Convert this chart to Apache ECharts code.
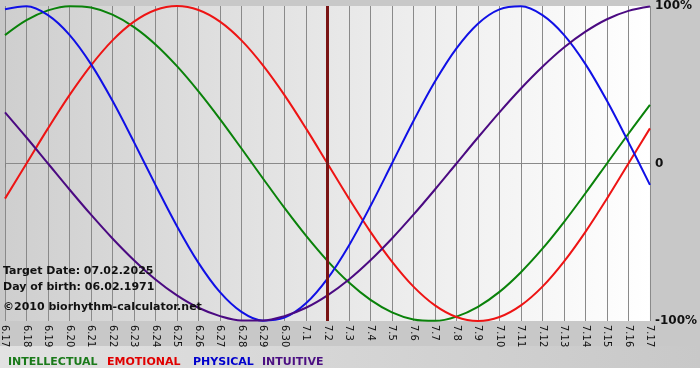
<!DOCTYPE html>
<html>
<head>
<meta charset="utf-8">
<script src="https://cdn.jsdelivr.net/npm/echarts@6/dist/echarts.min.js"></script>
<style>html,body{margin:0;padding:0;background:#fff}#c{width:700px;height:380px}</style>
</head>
<body>
<div id="c"></div>
<script>
var days = ['6.17','6.18','6.19','6.20','6.21','6.22','6.23','6.24','6.25','6.26','6.27','6.28','6.29','6.30',
  '7.1','7.2','7.3','7.4','7.5','7.6','7.7','7.8','7.9','7.10','7.11','7.12','7.13','7.14','7.15','7.16','7.17'];
var intellectual = [81.5,91.0,97.2,99.9,99.0,94.5,86.6,75.6,61.8,45.8,28.2,9.5,-9.5,-28.2,-45.8,-61.8,-75.6,-86.6,-94.5,-99.0,-99.9,-97.2,-91.0,-81.5,-69.0,-54.1,-37.2,-18.9,0,18.9,37.2];
var emotional = [-22.3,0,22.3,43.4,62.3,78.2,90.1,97.5,100,97.5,90.1,78.2,62.3,43.4,22.3,0,-22.3,-43.4,-62.3,-78.2,-90.1,-97.5,-100,-97.5,-90.1,-78.2,-62.3,-43.4,-22.3,0,22.3];
var physical = [97.9,99.8,94.2,81.7,63.1,39.8,13.6,-13.6,-39.8,-63.1,-81.7,-94.2,-99.8,-97.9,-88.8,-73.1,-52.0,-27.0,0,27.0,52.0,73.1,88.8,97.9,99.8,94.2,81.7,63.1,39.8,13.6,-13.6];
var intuitive = [32.5,16.5,0,-16.5,-32.5,-47.6,-61.4,-73.6,-83.7,-91.6,-96.9,-99.7,-99.7,-96.9,-91.6,-83.7,-73.6,-61.4,-47.6,-32.5,-16.5,0,16.5,32.5,47.6,61.4,73.6,83.7,91.6,96.9,99.7];
var yTicks = {'100':'100%','0':'0','-100':'-100%'};
var targetDay = '7.2';
var infoLines = ['Target Date: 07.02.2025','Day of birth: 06.02.1971','©2010 biorhythm-calculator.net'];
var legendNames = ['INTELLECTUAL','EMOTIONAL','PHYSICAL','INTUITIVE'];

var colors = ['#0a820a','#ee1414','#1010e6','#4b0a82'];
var legendColors = ['#1a7a1a','#e00000','#0000cc','#4b0f82'];
var font = '"DejaVu Sans", Verdana, sans-serif';

var chart = echarts.init(document.getElementById('c'));
var series = [intellectual, emotional, physical, intuitive].map(function(d, i){
  var s = {
    type:'line', name: legendNames[i], data:d, smooth:0.35, symbol:'none',
    lineStyle:{color:colors[i], width:2}, z: 3
  };
  if (i === 0) {
    s.markLine = {symbol:'none', silent:true, label:{show:false},
      lineStyle:{color:'#7a1515', width:3, type:'solid'},
      data:[{xAxis: targetDay}]};
  }
  return s;
});
var legendX = [8, 107, 193, 262];
var graphics = [
  {type:'rect', shape:{x:0,y:346,width:700,height:22}, z:-10,
   style:{fill:{type:'linear',x:0,y:0,x2:1,y2:0,colorStops:[{offset:0,color:'#e2e2e2'},{offset:1,color:'#c8c8c8'}]}}},
  {type:'rect', shape:{x:0,y:368,width:700,height:12}, z:-10, style:{fill:'#ffffff'}}
];
legendNames.forEach(function(n,i){
  graphics.push({type:'text', x:legendX[i], y:362, style:{text:n, fill:legendColors[i], font:'bold 11px '+font, textVerticalAlign:'middle'}});
});
var infoY = [271, 287, 307];
infoLines.forEach(function(t,i){
  graphics.push({type:'text', x:3, y:infoY[i], z:10, style:{text:t, fill:'#111', font:'bold 11px '+font, textVerticalAlign:'middle'}});
});

chart.setOption({
  backgroundColor:'#c8c8c8',
  animation:false,
  grid:{left:2, right:49, top:5, bottom:59, show:true, borderWidth:0,
    backgroundColor:{type:'linear',x:0,y:0,x2:1,y2:0,colorStops:[{offset:0,color:'#cfcfcf'},{offset:1,color:'#ffffff'}]}},
  xAxis:{type:'category', data:days, boundaryGap:false,
    axisLine:{show:false},
    axisTick:{show:true, length:4, lineStyle:{color:'#808080'}, interval:0},
    axisLabel:{interval:0, rotate:-90, fontSize:10, fontFamily:font, color:'#111', margin:4},
    splitLine:{show:true, interval:0, lineStyle:{color:'#8a8a8a', width:1}}},
  yAxis:{type:'value', min:-100, max:100, interval:100, position:'right',
    axisLine:{show:false}, axisTick:{show:false},
    axisLabel:{fontSize:12, fontWeight:'bold', fontFamily:font, color:'#111', margin:5,
      formatter:function(v){return yTicks[String(v)];}},
    splitLine:{show:true, lineStyle:{color:['rgba(0,0,0,0)','#8a8a8a','rgba(0,0,0,0)'], width:1}}},
  graphic: graphics,
  series: series
});
</script>
</body>
</html>
